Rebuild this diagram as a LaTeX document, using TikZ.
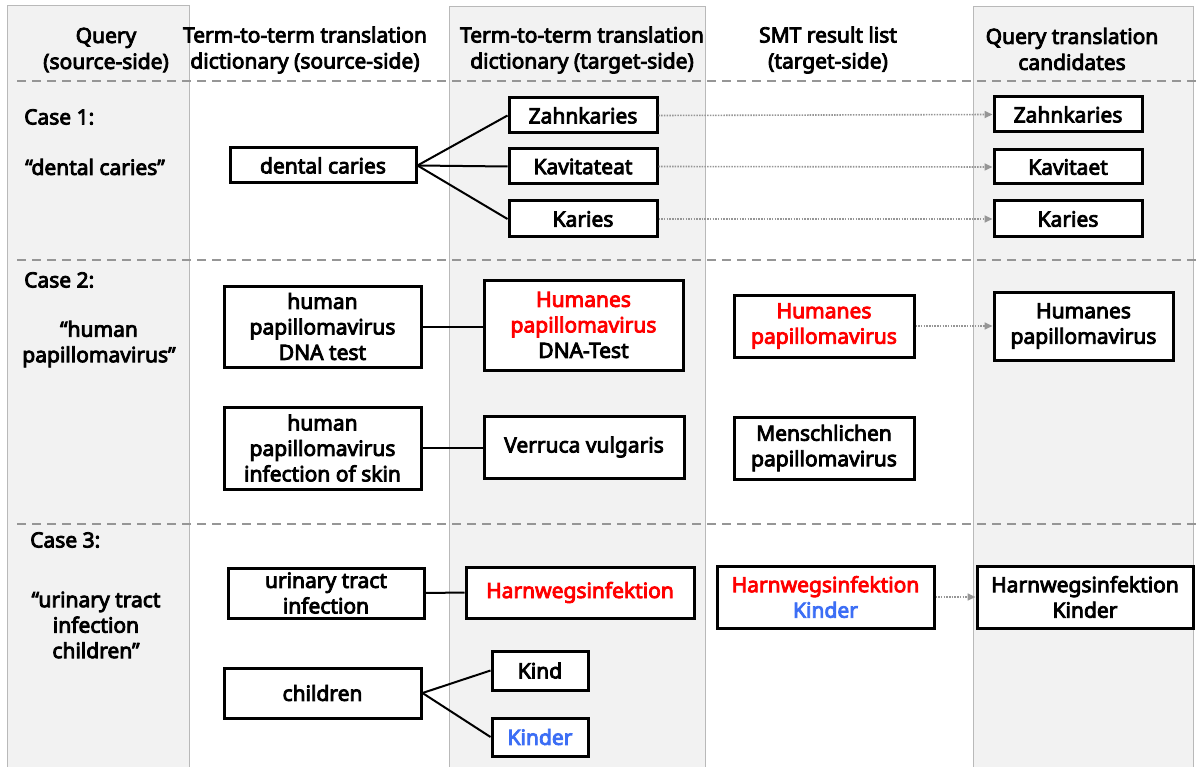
\documentclass[tikz,border=0pt]{standalone}
\usepackage{fontspec}
\setmainfont{Noto Sans}[BoldFont={Noto Sans}, BoldFeatures={FakeBold=4}]
\usetikzlibrary{arrows.meta}
\definecolor{colfill}{RGB}{242,242,242}
\definecolor{colline}{RGB}{185,185,185}
\definecolor{dashgray}{RGB}{150,150,150}
\definecolor{arrgray}{RGB}{150,150,150}
\definecolor{hred}{RGB}{255,0,0}
\definecolor{hblue}{RGB}{60,110,245}
\tikzset{
  colbg/.style={fill=colfill, draw=colline, line width=0.8pt},
  sep/.style={draw=dashgray, line width=2pt, dash pattern=on 9pt off 6pt},
  box/.style={draw=black, line width=3pt, fill=white, inner sep=0pt, align=center,
              font=\fontsize{21}{25.5}\selectfont\bfseries},
  hdr/.style={inner sep=0pt, align=center, font=\fontsize{21}{26}\selectfont\bfseries},
  lbl/.style={inner sep=0pt, align=center, font=\fontsize{21}{25.5}\selectfont\bfseries},
  link/.style={draw=black, line width=2pt},
  arr/.style={draw=arrgray, line width=1.6pt, dash pattern=on 1.5pt off 1.2pt,
              -{Triangle[length=8pt,width=7pt]}}
}
\begin{document}
\begin{tikzpicture}[x=1pt,y=-1pt]
\useasboundingbox (0,0) rectangle (1198,767);
% columns
\path[colbg] (7,5) rectangle (189,775);
\path[colbg] (449,6) rectangle (705,775);
\path[colbg] (973,6) rectangle (1193,775);
% separators
\draw[sep] (17,81) -- (1198,81);
\draw[sep] (17,260) -- (1198,260);
\draw[sep] (17,524) -- (1198,524);
% headers
\node[hdr] (h1) at (106,50) {Query\\(source-side)};
\node[hdr] (h2) at (305,50) {Term-to-term translation\\dictionary (source-side)};
\node[hdr] (h3) at (582,50) {Term-to-term translation\\dictionary (target-side)};
\node[hdr] (h4) at (828,50) {SMT result list\\(target-side)};
\node[hdr] (h5) at (1072,49) {Query translation\\candidates};
% case labels
\node[lbl, anchor=west] (c1) at (24,117) {Case 1:};
\node[lbl, anchor=west] (q1) at (25,167) {“dental caries”};
\node[lbl, anchor=west] (c2) at (24,280) {Case 2:};
\node[lbl] (q2) at (99,344) {“human\\papillomavirus”};
\node[lbl, anchor=west] (c3) at (30,540) {Case 3:};
\node[lbl] (q3) at (96,625) {“urinary tract\\infection\\children”};
% Case 1
\node[box, minimum width=186pt, minimum height=35pt] (dc) at (323,165.5) {dental caries};
\node[box, minimum width=148pt, minimum height=35pt] (z1) at (583,115.5) {Zahnkaries};
\node[box, minimum width=148pt, minimum height=35pt] (k1) at (583,166.5) {Kavitateat};
\node[box, minimum width=148pt, minimum height=36pt] (ka1) at (583,219) {Karies};
\node[box, minimum width=148pt, minimum height=35pt] (cz) at (1068,114.5) {Zahnkaries};
\node[box, minimum width=148pt, minimum height=34pt] (ck) at (1068,167) {Kavitaet};
\node[box, minimum width=148pt, minimum height=36pt] (cka) at (1068,219) {Karies};
\draw[link] (dc.east) -- (z1.west);
\draw[link] (dc.east) -- (k1.west);
\draw[link] (dc.east) -- (ka1.west);
\draw[arr] (z1.east) -- (cz.west);
\draw[arr] (k1.east) -- (ck.west);
\draw[arr] (ka1.east) -- (cka.west);
% Case 2
\node[box, minimum width=197pt, minimum height=81pt] (hp1) at (322.5,326.5) {human\\papillomavirus\\DNA test};
\node[box, minimum width=197pt, minimum height=82pt] (hp2) at (322.5,448) {human\\papillomavirus\\infection of skin};
\node[box, minimum width=199pt, minimum height=90pt] (hu1) at (583.5,325) {\textcolor{hred}{Humanes}\\\textcolor{hred}{papillomavirus}\\DNA-Test};
\node[box, minimum width=200pt, minimum height=62pt] (vv) at (584,447) {Verruca vulgaris};
\node[box, minimum width=180pt, minimum height=62pt] (s2) at (824,326) {\textcolor{hred}{Humanes}\\\textcolor{hred}{papillomavirus}};
\node[box, minimum width=180pt, minimum height=62pt] (me) at (824,448) {Menschlichen\\papillomavirus};
\node[box, minimum width=179pt, minimum height=68pt] (cd2) at (1083.5,326) {Humanes\\papillomavirus};
\draw[link] (hp1.east) -- (hu1.west |- hp1.east);
\draw[link] (hp2.east) -- (vv.west |- hp2.east);
\draw[arr] (s2.east) -- (cd2.west);
% Case 3
\node[box, minimum width=196pt, minimum height=50pt] (ut) at (326,593) {urinary tract\\infection};
\node[box, minimum width=228pt, minimum height=51pt] (hw) at (580,592.5) {\textcolor{hred}{Harnwegsinfektion}};
\node[box, minimum width=197pt, minimum height=50pt] (ch) at (322.5,693) {children};
\node[box, minimum width=96pt, minimum height=39pt] (kd) at (540,670.5) {Kind};
\node[box, minimum width=96pt, minimum height=38pt] (kr) at (540,737) {\textcolor{hblue}{Kinder}};
\node[box, minimum width=217pt, minimum height=62pt] (s3) at (825.5,597) {\textcolor{hred}{Harnwegsinfektion}\\\textcolor{hblue}{Kinder}};
\node[box, minimum width=216pt, minimum height=62pt] (cd3) at (1085,597) {Harnwegsinfektion\\Kinder};
\draw[link] (ut.east) -- (hw.west);
\draw[link] (ch.east) -- (kd.west);
\draw[link] (ch.east) -- (kr.west);
\draw[arr] (s3.east) -- (cd3.west);
\end{tikzpicture}
\end{document}
